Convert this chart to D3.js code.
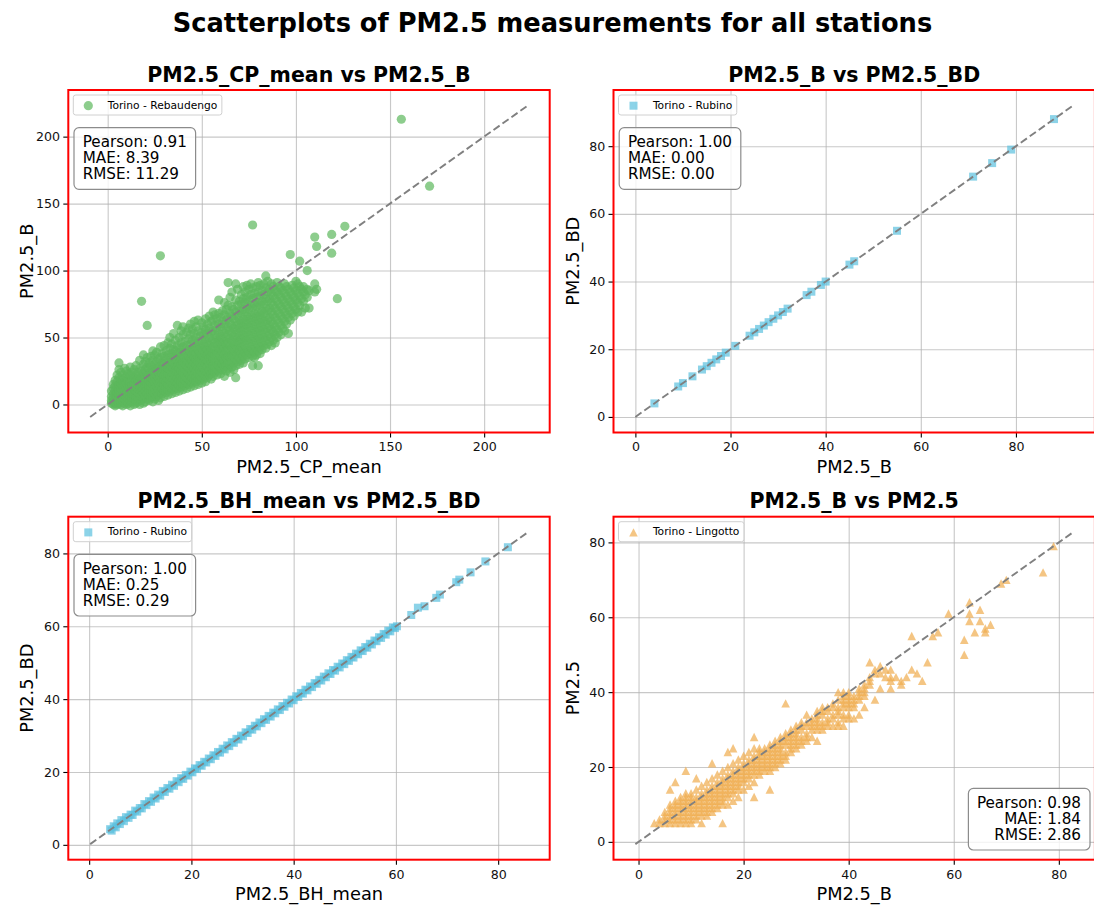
<!DOCTYPE html>
<html>
<head>
<meta charset="utf-8">
<script src="https://cdn.jsdelivr.net/npm/d3@7"></script>
<style>
  body { margin: 0; background: #fff; }
  svg { display: block; }
  text { font-family: "DejaVu Sans", sans-serif; }
</style>
</head>
<body>
<svg id="chart" width="1094" height="906"></svg>
<script>
// ---------- data ----------

const figTitle = "Scatterplots of PM2.5 measurements for all stations";

// PM2.5_CP_mean (x) vs PM2.5_B (y), Torino - Rebaudengo: [x, [y values at that x]]
const cpMeanRows = [
  [2, [1, 3, 6, 10]], [3, [0, 2, 5, 8, 12, 15]], [4, [-1, 1, 4, 7, 10, 14, 18]],
  [5, [0, 3, 6, 9, 13, 17, 22]], [6, [1, 4, 8, 11, 15, 20, 26, 31]], [7, [0, 2, 5, 9, 12, 16, 19, 24]],
  [8, [-1, 3, 6, 10, 14, 18, 22]], [9, [1, 4, 7, 11, 15, 20, 27]], [10, [0, 2, 5, 8, 12, 16, 21, 25]],
  [11, [1, 4, 7, 10, 13, 18, 23]], [12, [-1, 3, 6, 9, 14, 17, 22, 28]], [13, [2, 5, 8, 11, 15, 19, 24]],
  [14, [0, 4, 7, 12, 16, 20, 26]], [15, [1, 3, 6, 10, 13, 18, 22, 29]], [16, [2, 5, 9, 12, 15, 19, 24]],
  [17, [0, 4, 8, 11, 14, 17, 21, 27, 33]], [18, [3, 6, 10, 13, 16, 20, 25, 77]],
  [19, [1, 5, 9, 12, 15, 18, 23, 30, 37]], [20, [2, 6, 10, 14, 17, 21, 26, 32]],
  [21, [4, 8, 12, 15, 19, 23, 28, 35, 59]], [22, [3, 7, 11, 14, 18, 22, 27, 31]],
  [23, [5, 9, 13, 16, 20, 24, 29, 36]], [24, [2, 6, 10, 15, 19, 23, 26, 33, 40]],
  [25, [4, 8, 12, 17, 21, 25, 30, 37]], [26, [6, 10, 14, 18, 22, 27, 32, 39]],
  [27, [3, 7, 11, 16, 20, 24, 28, 34]], [28, [5, 9, 13, 17, 21, 25, 29, 35, 43, 111]],
  [29, [8, 12, 16, 19, 23, 27, 31, 38]], [30, [6, 10, 14, 18, 22, 26, 30, 36, 44]],
  [31, [9, 13, 17, 21, 25, 28, 33, 40]], [32, [7, 11, 15, 19, 23, 27, 31, 37, 46]],
  [33, [10, 14, 18, 22, 26, 30, 35, 42, 50]], [34, [8, 12, 16, 20, 24, 28, 32, 38, 45]],
  [35, [11, 15, 19, 23, 27, 31, 36, 41, 53]], [36, [9, 13, 17, 21, 25, 29, 34, 40, 48]],
  [37, [12, 16, 20, 24, 28, 33, 38, 44, 59]], [38, [10, 14, 18, 23, 27, 31, 35, 42, 50]],
  [39, [13, 17, 21, 25, 30, 34, 39, 46, 55]], [40, [11, 15, 19, 24, 28, 32, 37, 43, 52, 58]],
  [41, [14, 18, 22, 26, 31, 35, 40, 47]], [42, [12, 16, 20, 25, 29, 33, 38, 44, 54]],
  [43, [15, 19, 23, 27, 32, 36, 41, 49, 57]], [44, [13, 17, 21, 26, 30, 34, 39, 45, 52, 60]],
  [45, [16, 20, 24, 28, 33, 37, 42, 48, 56]], [46, [14, 18, 22, 27, 31, 35, 40, 46, 53, 62]],
  [47, [17, 21, 25, 29, 34, 38, 43, 50, 58]], [48, [15, 19, 23, 28, 32, 36, 41, 47, 55, 63]],
  [49, [18, 22, 26, 31, 35, 39, 44, 51]], [50, [16, 20, 24, 29, 33, 37, 42, 48, 54, 61]],
  [51, [19, 23, 27, 32, 36, 40, 45, 52, 58]], [52, [17, 21, 25, 30, 34, 38, 43, 49, 56, 64]],
  [53, [20, 24, 28, 33, 37, 41, 46, 53, 60]], [54, [22, 26, 30, 35, 39, 44, 50, 57, 66]],
  [55, [19, 23, 28, 32, 36, 41, 47, 54, 62]], [56, [21, 25, 29, 34, 38, 43, 48, 55, 63, 69]],
  [57, [24, 28, 32, 37, 41, 46, 52, 59, 67]], [58, [22, 26, 31, 35, 40, 45, 50, 57, 64]],
  [59, [25, 29, 33, 38, 42, 47, 53, 60, 68, 78]], [60, [23, 27, 32, 36, 41, 46, 51, 58, 65]],
  [61, [26, 30, 34, 39, 44, 49, 55, 62, 70]], [62, [21, 28, 33, 37, 42, 47, 53, 60, 67, 76]],
  [63, [25, 29, 35, 40, 45, 50, 56, 63, 71]], [64, [27, 31, 36, 41, 46, 52, 58, 65, 74, 91]],
  [65, [24, 30, 35, 39, 44, 49, 55, 61, 68, 80]], [66, [28, 32, 37, 42, 47, 53, 59, 66, 73, 84]],
  [67, [26, 31, 36, 41, 46, 51, 57, 64, 71]], [68, [20, 29, 34, 39, 44, 50, 56, 62, 69, 78, 90]],
  [69, [32, 37, 42, 47, 53, 59, 66, 74, 86]], [70, [30, 35, 40, 46, 51, 57, 63, 70, 77]],
  [71, [33, 38, 43, 49, 55, 61, 68, 75, 82]], [72, [31, 36, 41, 47, 52, 58, 64, 71, 79, 88]],
  [73, [34, 39, 44, 50, 56, 62, 69, 76, 84]], [74, [37, 42, 48, 54, 60, 66, 73, 80, 89]],
  [75, [35, 40, 46, 52, 58, 64, 71, 78, 86]], [76, [38, 43, 49, 55, 61, 67, 74, 82, 90]],
  [77, [29, 36, 41, 47, 53, 59, 65, 72, 79, 87, 134]], [78, [35, 39, 44, 50, 56, 62, 68, 75, 83]],
  [79, [37, 42, 48, 54, 60, 66, 73, 80, 88]], [80, [29, 40, 45, 51, 57, 63, 69, 76, 84, 91]],
  [81, [38, 43, 49, 55, 61, 67, 74, 81, 89]], [82, [41, 46, 52, 58, 64, 70, 77, 85]],
  [83, [44, 50, 56, 62, 68, 75, 82, 90]], [84, [42, 48, 54, 60, 66, 72, 79, 87, 96]],
  [85, [45, 51, 57, 63, 70, 77, 84, 92]], [86, [47, 53, 59, 65, 72, 79, 86]],
  [87, [44, 50, 56, 62, 69, 76, 83, 90]], [88, [48, 54, 60, 67, 74, 81, 88]],
  [89, [46, 52, 58, 65, 72, 79, 85]], [90, [50, 56, 63, 70, 77, 84, 91]],
  [91, [54, 61, 68, 75, 82, 88]], [92, [52, 59, 66, 73, 80, 87]], [93, [57, 64, 71, 78, 85]],
  [94, [55, 62, 69, 76, 83, 90]], [95, [60, 67, 74, 81, 88]], [96, [53, 65, 72, 79, 86]],
  [97, [63, 70, 77, 84, 112]], [98, [68, 75, 82, 89]], [99, [66, 73, 80, 87]],
  [100, [71, 78, 85, 92]], [101, [69, 76, 83, 90]], [102, [74, 81, 88, 107]],
  [103, [69, 79, 86]], [104, [77, 84, 88]], [105, [72, 82]], [106, [80, 86, 100]],
  [107, [72, 85]], [110, [84, 90, 125]], [111, [86, 118]], [119, [113, 127]],
  [122, [79]], [126, [133]], [156, [213]], [171, [163]]
];

// PM2.5_B (x) vs PM2.5_BD (y), Torino - Rubino
const bVsBdPairs = [
  [4, 4], [9, 9], [10, 10], [12, 12], [14, 14], [15, 15], [16, 16], [17, 17], [18, 18], [19, 19],
  [21, 21], [24, 24], [25, 25], [26, 26], [27, 27], [28, 28], [29, 29], [30, 30], [31, 31], [32, 32],
  [36, 36], [37, 37], [39, 39], [40, 40], [45, 45], [46, 46], [55, 55], [71, 71], [75, 75], [79, 79], [88, 88]
];

// PM2.5_BH_mean (x) vs PM2.5_BD (y), Torino - Rubino
const bhMeanPairs = [
  [4.1, 4.3], [4.4, 3.9], [4.8, 5.1], [5.2, 4.8], [5.5, 5.9], [6.0, 5.7], [6.3, 6.8], [6.8, 6.5], [7.2, 7.6], [7.7, 7.4],
  [8.1, 8.3], [8.5, 8.2], [9.0, 9.4], [9.4, 9.1], [9.9, 10.1], [10.3, 10.0], [10.8, 11.2], [11.2, 10.9], [11.7, 12.0], [12.1, 11.8],
  [12.6, 13.0], [13.0, 12.7], [13.5, 13.8], [13.9, 13.5], [14.4, 14.8], [14.8, 14.5], [15.3, 15.6], [15.7, 15.4], [16.2, 16.5], [16.6, 16.2],
  [17.1, 17.5], [17.5, 17.2], [18.0, 18.3], [18.4, 18.1], [18.9, 19.2], [19.3, 19.0], [19.8, 20.1], [20.2, 19.9], [20.7, 21.0], [21.1, 20.8],
  [21.6, 21.9], [22.0, 21.7], [22.5, 22.8], [22.9, 22.6], [23.4, 23.7], [23.8, 23.5], [24.3, 24.6], [24.7, 24.4], [25.2, 25.5], [25.6, 25.3],
  [26.1, 26.4], [26.5, 26.2], [27.0, 27.3], [27.4, 27.1], [27.9, 28.2], [28.3, 28.0], [28.8, 29.1], [29.2, 28.9], [29.7, 30.0], [30.1, 29.8],
  [30.6, 30.9], [31.0, 30.7], [31.5, 31.8], [31.9, 31.6], [32.4, 32.7], [32.8, 32.5], [33.3, 33.6], [33.7, 33.4], [34.2, 34.5], [34.6, 34.3],
  [35.1, 35.4], [35.5, 35.2], [36.0, 36.3], [36.4, 36.1], [36.9, 37.2], [37.3, 37.0], [37.8, 38.1], [38.2, 37.9], [38.7, 39.0], [39.1, 38.8],
  [39.6, 39.9], [40.0, 39.7], [40.5, 40.8], [40.9, 40.6], [41.4, 41.7], [41.8, 41.5], [42.3, 42.6], [42.7, 42.4], [43.2, 43.5], [43.6, 43.3],
  [44.1, 44.4], [44.5, 44.2], [45.0, 45.3], [45.4, 45.1], [45.9, 46.2], [46.3, 46.0], [46.8, 47.1], [47.2, 46.9], [47.7, 48.0], [48.1, 47.8],
  [48.6, 48.9], [49.0, 48.7], [49.5, 49.8], [49.9, 49.6], [50.4, 50.7], [50.8, 50.5], [51.3, 51.6], [51.7, 51.4], [52.2, 52.5], [52.6, 52.3],
  [53.1, 53.4], [53.5, 53.2], [54.0, 54.3], [54.4, 54.1], [54.9, 55.2], [55.3, 55.0], [55.8, 56.1], [56.2, 55.9], [56.7, 57.0], [57.1, 56.8],
  [57.6, 57.9], [58.0, 57.7], [58.5, 58.8], [58.9, 58.6], [59.4, 59.7], [59.8, 59.5], [60.2, 60.0],
  [63.0, 63.1], [64.3, 65.1], [65.6, 65.5], [67.9, 67.8], [68.6, 68.7], [71.8, 72.1], [72.4, 72.8], [74.6, 74.8], [77.5, 77.8], [81.9, 81.7]
];

// PM2.5_B (x) vs PM2.5 (y), Torino - Lingotto: [x, [y values at that x]]
const lingottoRows = [
  [3, [5]], [4, [5, 6]], [5, [5, 6, 7, 8]], [6, [5, 6, 7, 8, 9, 10, 14]], [7, [5, 6, 7, 8, 9, 10, 11, 16]],
  [8, [5, 6, 7, 8, 9, 10, 11, 12]], [9, [5, 6, 7, 8, 9, 10, 11, 12, 13, 19]], [10, [5, 6, 7, 8, 9, 10, 11, 12, 13]],
  [11, [6, 7, 8, 9, 10, 11, 12, 14, 17]], [12, [5, 7, 8, 9, 10, 11, 12, 13, 15]], [13, [7, 8, 9, 10, 11, 12, 13, 14, 16]],
  [14, [8, 9, 10, 11, 12, 13, 14, 15, 17, 21]], [15, [9, 10, 11, 12, 13, 14, 15, 16, 18]],
  [16, [5, 10, 11, 12, 13, 14, 15, 16, 17, 19]], [17, [10, 12, 13, 14, 15, 16, 17, 18, 20, 24]],
  [18, [11, 13, 14, 15, 16, 17, 18, 19, 21, 25]], [19, [12, 14, 15, 16, 17, 18, 19, 20, 22]],
  [20, [14, 16, 17, 18, 19, 20, 21, 23]], [21, [15, 17, 18, 19, 20, 21, 22, 24]],
  [22, [12, 16, 18, 19, 20, 21, 22, 23, 25, 28]], [23, [18, 19, 20, 21, 22, 23, 24, 25]],
  [24, [19, 20, 21, 22, 23, 24, 25]], [25, [14, 19, 20, 21, 22, 23, 24, 25, 26]],
  [26, [20, 21, 22, 23, 24, 25, 26, 27]], [27, [21, 22, 23, 24, 25, 26, 27, 28]],
  [28, [22, 23, 24, 26, 27, 28, 29, 37]], [29, [24, 25, 26, 27, 28, 29, 30]], [30, [25, 26, 27, 28, 29, 30, 31]],
  [31, [26, 27, 28, 30, 31, 32]], [32, [27, 28, 29, 31, 32, 34]], [33, [28, 30, 31, 32, 33]],
  [34, [27, 30, 31, 32, 33, 34, 35]], [35, [30, 31, 32, 34, 35, 36]], [36, [31, 32, 33, 35, 36]],
  [37, [31, 33, 34, 36, 37]], [38, [31, 32, 34, 35, 36, 38, 40]], [39, [31, 33, 34, 36, 37, 38, 39, 40]],
  [40, [33, 34, 36, 37, 38, 39, 40]], [41, [33, 36, 37, 38, 39]], [42, [34, 38, 39, 40, 41]],
  [43, [36, 39, 40, 41, 42]], [44, [42, 43, 44, 48]], [45, [38, 45, 46]], [46, [41, 45, 47]],
  [47, [44, 46]], [48, [41, 43, 44, 46]], [49, [44]], [50, [42, 43]], [51, [44]], [52, [46, 55]],
  [53, [45]], [54, [43]], [55, [48]], [56, [55]], [57, [56]], [59, [61]], [62, [50, 54]],
  [63, [59, 61, 64]], [64, [56]], [65, [59, 62]], [66, [56, 57]], [67, [58]], [69, [69]],
  [70, [70]], [77, [72]], [79, [79]]
];

// dashed 1:1 reference line extents (data units)
const cpLine = [-9.3, 223.2];
const bBdLine = [0, 92];
const bhBdLine = [0.2, 85.8];
const lingottoLine = [-0.6, 82.7];

const ticksCP = [0, 50, 100, 150, 200];
const ticksSmall = [0, 20, 40, 60, 80];

const statsCP = ["Pearson: 0.91", "MAE: 8.39", "RMSE: 11.29"];
const statsBBd = ["Pearson: 1.00", "MAE: 0.00", "RMSE: 0.00"];
const statsBhBd = ["Pearson: 1.00", "MAE: 0.25", "RMSE: 0.29"];
const statsLingotto = ["Pearson: 0.98", "MAE: 1.84", "RMSE: 2.86"];

const toPairs = rows => rows.flatMap(([x, ys]) => ys.map(y => [x, y]));

const panels = [
  { title: "PM2.5_CP_mean vs PM2.5_B", xLabel: "PM2.5_CP_mean", yLabel: "PM2.5_B",
    station: "Torino - Rebaudengo", points: toPairs(cpMeanRows), line: cpLine, ticks: ticksCP,
    stats: statsCP, color: "#5cb85c", marker: "circle",
    left: 68.3, top: 90, width: 481.4, height: 342.5, statsAt: "tl" },
  { title: "PM2.5_B vs PM2.5_BD", xLabel: "PM2.5_B", yLabel: "PM2.5_BD",
    station: "Torino - Rubino", points: bVsBdPairs, line: bBdLine, ticks: ticksSmall,
    stats: statsBBd, color: "#5bc0de", marker: "square",
    left: 613.5, top: 90, width: 481.4, height: 342.5, statsAt: "tl" },
  { title: "PM2.5_BH_mean vs PM2.5_BD", xLabel: "PM2.5_BH_mean", yLabel: "PM2.5_BD",
    station: "Torino - Rubino", points: bhMeanPairs, line: bhBdLine, ticks: ticksSmall,
    stats: statsBhBd, color: "#5bc0de", marker: "square",
    left: 68.3, top: 516.7, width: 481.4, height: 343, statsAt: "tl" },
  { title: "PM2.5_B vs PM2.5", xLabel: "PM2.5_B", yLabel: "PM2.5",
    station: "Torino - Lingotto", points: toPairs(lingottoRows), line: lingottoLine, ticks: ticksSmall,
    stats: statsLingotto, color: "#f0ad4e", marker: "triangle",
    left: 613.5, top: 516.7, width: 481.4, height: 343, statsAt: "br" }
];

// ---------- drawing ----------

const svg = d3.select("#chart");

svg.append("text")
  .attr("x", 552.5).attr("y", 31.7)
  .attr("text-anchor", "middle")
  .attr("font-size", 25.7).attr("font-weight", "bold")
  .text(figTitle);

const addMarker = (sel, type, color) => {
  if (type === "circle") {
    return sel.append("circle").attr("r", 4.6).attr("fill", color);
  }
  if (type === "square") {
    return sel.append("rect").attr("x", -4).attr("y", -4)
      .attr("width", 8).attr("height", 8).attr("fill", color);
  }
  return sel.append("path").attr("d", "M0,-4.2L4.3,4.2L-4.3,4.2Z").attr("fill", color);
};

panels.forEach((p, i) => {
  const g = svg.append("g").attr("transform", `translate(${p.left},${p.top})`);

  // 5% margin around the reference line, same on both axes
  const pad = (p.line[1] - p.line[0]) * 0.05;
  const domain = [p.line[0] - pad, p.line[1] + pad];
  const x = d3.scaleLinear().domain(domain).range([0, p.width]);
  const y = d3.scaleLinear().domain(domain).range([p.height, 0]);

  g.append("clipPath").attr("id", `clip-${i}`)
    .append("rect").attr("width", p.width).attr("height", p.height);

  // grid
  const grid = g.append("g").attr("class", "grid");
  grid.append("g")
    .attr("transform", `translate(0,${p.height})`)
    .call(d3.axisBottom(x).tickValues(p.ticks).tickSize(-p.height).tickFormat(""));
  grid.append("g")
    .call(d3.axisLeft(y).tickValues(p.ticks).tickSize(-p.width).tickFormat(""));
  grid.selectAll(".domain").remove();
  grid.selectAll("line").attr("stroke", "#b0b0b0").attr("stroke-opacity", 0.7).attr("stroke-width", 1.1);

  // points
  const plot = g.append("g").attr("clip-path", `url(#clip-${i})`);
  const marks = plot.append("g").attr("fill-opacity", 0.7)
    .selectAll("g").data(p.points).join("g")
    .attr("transform", d => `translate(${x(d[0])},${y(d[1])})`);
  addMarker(marks, p.marker, p.color);

  // 1:1 line
  plot.append("line")
    .attr("x1", x(p.line[0])).attr("y1", y(p.line[0]))
    .attr("x2", x(p.line[1])).attr("y2", y(p.line[1]))
    .attr("stroke", "#808080").attr("stroke-width", 1.9)
    .attr("stroke-dasharray", "7.5,3.5");

  // axes
  const xAxis = g.append("g")
    .attr("transform", `translate(0,${p.height})`)
    .call(d3.axisBottom(x).tickValues(p.ticks).tickSize(5).tickPadding(5));
  const yAxis = g.append("g")
    .call(d3.axisLeft(y).tickValues(p.ticks).tickSize(5).tickPadding(3.3));
  [xAxis, yAxis].forEach(a => {
    a.select(".domain").remove();
    a.attr("font-family", "DejaVu Sans").attr("font-size", 12.6);
    a.selectAll("line").attr("stroke", "#000").attr("stroke-width", 1.1);
    a.selectAll("text").attr("fill", "#111");
  });

  // red frame
  g.append("rect")
    .attr("width", p.width).attr("height", p.height)
    .attr("fill", "none").attr("stroke", "red").attr("stroke-width", 2);

  // titles and labels
  g.append("text")
    .attr("x", p.width / 2).attr("y", -8.3)
    .attr("text-anchor", "middle")
    .attr("font-size", 20.5).attr("font-weight", "bold")
    .text(p.title);
  g.append("text")
    .attr("x", p.width / 2).attr("y", p.height + 40.6)
    .attr("text-anchor", "middle")
    .attr("font-size", 17.8)
    .text(p.xLabel);
  g.append("text")
    .attr("transform", `translate(-35,${p.height / 2}) rotate(-90)`)
    .attr("text-anchor", "middle")
    .attr("font-size", 17.8)
    .text(p.yLabel);

  // legend
  const legend = g.append("g").attr("transform", "translate(5,5)");
  const legendBox = legend.append("rect")
    .attr("height", 20).attr("rx", 2.5)
    .attr("fill", "#fff").attr("fill-opacity", 0.8)
    .attr("stroke", "#d0d0d0").attr("stroke-width", 1);
  const legendMark = legend.append("g").attr("transform", "translate(15,10.7)").attr("fill-opacity", 0.7);
  addMarker(legendMark, p.marker, p.color);
  const legendText = legend.append("text")
    .attr("x", 34.4).attr("y", 13.6)
    .attr("font-size", 10.7)
    .text(p.station);
  legendBox.attr("width", 34.4 + legendText.node().getComputedTextLength() + 4.5);

  // stats box
  const stats = g.append("g");
  const statBox = stats.append("rect")
    .attr("rx", 5).attr("fill", "#fff").attr("fill-opacity", 0.8)
    .attr("stroke", "#8c8c8c").attr("stroke-width", 1.2);
  const right = p.statsAt === "br";
  const lines = stats.selectAll("text").data(p.stats).join("text")
    .attr("font-size", 15.2)
    .attr("text-anchor", right ? "end" : "start")
    .attr("y", (d, k) => 19.6 + k * 16.1)
    .text(d => d);
  const textW = d3.max(lines.nodes(), n => n.getComputedTextLength());
  const boxW = textW + 17.5;
  const boxH = 61.6;
  statBox.attr("width", boxW).attr("height", boxH);
  if (right) {
    lines.attr("x", boxW - 9);
    stats.attr("transform", `translate(${p.width - 4.9 - boxW},${p.height - 9.7 - boxH})`);
  } else {
    lines.attr("x", 8.7);
    stats.attr("transform", "translate(5.7,37.7)");
  }
});
</script>
</body>
</html>
